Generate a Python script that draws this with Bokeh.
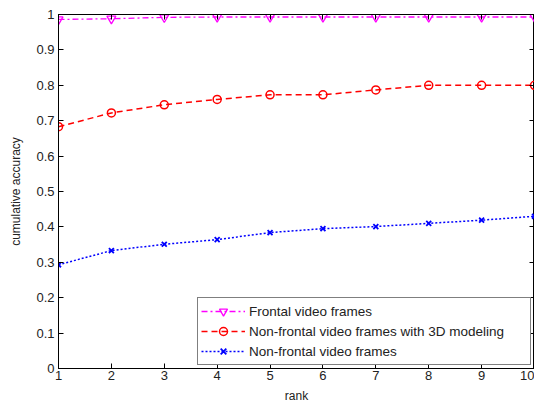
from bokeh.plotting import figure
from bokeh.models import LinearAxis, Range1d, FixedTicker, Legend
from bokeh.embed import file_html
from bokeh.resources import INLINE

rank = [1, 2, 3, 4, 5, 6, 7, 8, 9, 10]
frontal = [0.986, 0.988, 0.992, 0.993, 0.993, 0.993, 0.993, 0.993, 0.993, 0.993]
nonfrontal_3d = [0.683, 0.722, 0.745, 0.760, 0.773, 0.773, 0.787, 0.800, 0.800, 0.800]
nonfrontal = [0.293, 0.333, 0.351, 0.364, 0.384, 0.395, 0.401, 0.410, 0.419, 0.430]
labels = ["Frontal video frames", "Non-frontal video frames with 3D modeling", "Non-frontal video frames"]

FONT = "Liberation Sans"

p = figure(width=534, height=405, output_backend="svg", toolbar_location=None,
           x_range=Range1d(1, 10), y_range=Range1d(0, 1),
           min_border_left=58, min_border_right=0, min_border_top=14, min_border_bottom=37)
p.xgrid.visible = False
p.ygrid.visible = False
p.outline_line_color = "black"
p.outline_line_width = 1
p.background_fill_color = "white"

r1 = p.line(rank, frontal, line_color="magenta", line_dash="6 3 2 3", line_width=1.3)
s1 = p.scatter(rank, frontal, marker="inverted_triangle", size=9, line_color="magenta", fill_color=None, line_width=1.3)
r2 = p.line(rank, nonfrontal_3d, line_color="red", line_dash="6 4", line_width=1.5)
s2 = p.scatter(rank, nonfrontal_3d, marker="circle", size=8, line_color="red", fill_color=None, line_width=1.5)
r3 = p.line(rank, nonfrontal, line_color="blue", line_dash="2 2", line_width=1.5)
s3 = p.scatter(rank, nonfrontal, marker="x", size=7, line_color="blue", line_width=1.8)

legend = Legend(items=[(labels[0], [r1, s1]), (labels[1], [r2, s2]), (labels[2], [r3, s3])],
                location="bottom_right")
legend.border_line_color = "black"
legend.border_line_width = 1
legend.label_text_font = FONT
legend.label_text_font_size = "13.5px"
legend.label_text_color = "#222222"
legend.glyph_width = 44
legend.spacing = 0
legend.padding = 3
legend.margin = 3
legend.label_standoff = 4
legend.label_height = 20
legend.glyph_height = 20
legend.label_width = 278
legend.background_fill_alpha = 1
p.add_layout(legend)

xt = FixedTicker(ticks=list(range(1, 11)))
yt = FixedTicker(ticks=[i / 10 for i in range(11)])
for ax in p.xaxis:
    ax.ticker = xt
    ax.axis_label = "rank"
for ax in p.yaxis:
    ax.ticker = yt
    ax.axis_label = "cumulative accuracy"
    ax.major_label_overrides = {0: "0", 1: "1"}

for ax in list(p.xaxis) + list(p.yaxis):
    ax.major_tick_in = 5
    ax.major_tick_out = 0
    ax.minor_tick_in = 0
    ax.minor_tick_out = 0
    ax.axis_line_color = "black"
    ax.major_tick_line_color = "black"
    ax.major_label_text_font = FONT
    ax.major_label_text_font_size = "13px"
    ax.major_label_text_color = "#222222"
    ax.axis_label_text_font = FONT
    ax.axis_label_text_font_size = "12px"
    ax.axis_label_text_font_style = "normal"
    ax.axis_label_text_color = "#222222"
p.xaxis.major_label_standoff = 2
p.xaxis.axis_label_standoff = 6
p.yaxis.major_label_standoff = 4
p.yaxis.axis_label_standoff = 10

top = LinearAxis(ticker=xt, major_label_text_font_size="0px", major_tick_in=5, major_tick_out=0,
                 minor_tick_in=0, minor_tick_out=0, axis_line_color="black", major_label_standoff=0)
top.major_label_text_alpha = 0
right = LinearAxis(ticker=yt, major_label_text_font_size="0px", major_tick_in=5, major_tick_out=0,
                   minor_tick_in=0, minor_tick_out=0, axis_line_color="black", major_label_standoff=0)
right.major_label_text_alpha = 0
p.add_layout(top, "above")
p.add_layout(right, "right")

open("out.html", "w").write(file_html(p, INLINE))
